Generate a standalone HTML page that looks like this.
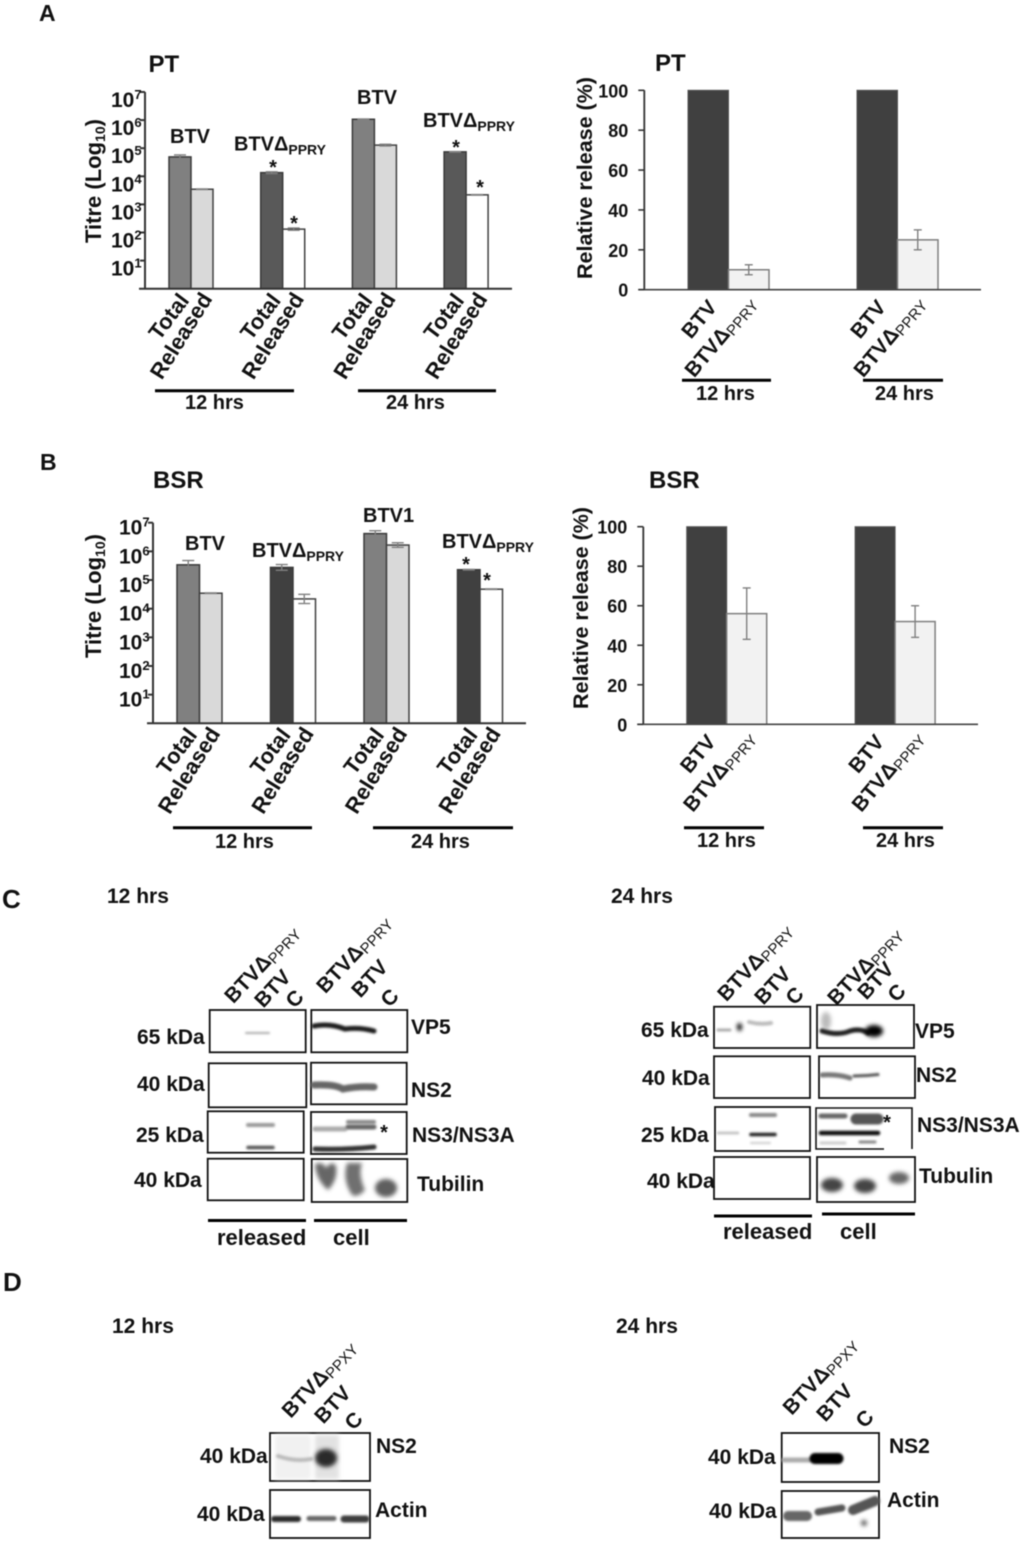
<!DOCTYPE html>
<html lang="en">
<head>
<meta charset="utf-8">
<title>BTV release figure</title>
<style>
html,body{margin:0;padding:0;background:#fff;}
svg{display:block;filter:blur(0.4px);}
text{font-family:"Liberation Sans",Arial,sans-serif;font-weight:bold;fill:#111;}
.sub{font-weight:bold;}
.box{fill:#fff;stroke:#111;stroke-width:1.8;}
.rule{stroke:#000;stroke-width:3;}
.kda{font-size:21px;}
.prot{font-size:21px;}
.lane{font-size:21px;}
.lane tspan{font-weight:normal;font-size:15px;}
.panel{font-size:23px;}
.bigpanel{font-size:26px;}
.hrs{font-size:21px;}
.band{fill:none;stroke-linecap:round;filter:url(#soft);}
.blob{filter:url(#soft2);}
</style>
</head>
<body>
<svg id="fig" xmlns="http://www.w3.org/2000/svg" width="1024" height="1542" viewBox="0 0 1024 1542">
<defs>
<filter id="soft" filterUnits="userSpaceOnUse" x="0" y="0" width="1024" height="1542"><feGaussianBlur stdDeviation="1"/></filter>
<filter id="soft2" filterUnits="userSpaceOnUse" x="0" y="0" width="1024" height="1542"><feGaussianBlur stdDeviation="2"/></filter>
</defs>
<text x="39" y="21" class="panel">A</text>
<text x="40" y="470" class="panel">B</text>
<text x="2" y="908" class="bigpanel">C</text>
<text x="3" y="1291" class="bigpanel">D</text>

<g id="charts"></g>

<g>
<text x="107" y="903" class="hrs">12 hrs</text>
<text class="lane" text-anchor="end" transform="translate(300 933) rotate(-47)">BTVΔ<tspan dy="3">PPRY</tspan></text>
<text class="lane" text-anchor="end" transform="translate(292 978) rotate(-47)">BTV</text>
<text class="lane" text-anchor="end" transform="translate(305 998) rotate(-47)">C</text>
<text class="lane" text-anchor="end" transform="translate(392 923) rotate(-47)">BTVΔ<tspan dy="3">PPRY</tspan></text>
<text class="lane" text-anchor="end" transform="translate(389 968) rotate(-47)">BTV</text>
<text class="lane" text-anchor="end" transform="translate(400 997) rotate(-47)">C</text>
<rect class="box" x="209.7" y="1010" width="96" height="42.3"/>
<rect class="box" x="311.3" y="1010" width="96" height="42.3"/>
<rect class="box" x="208.7" y="1063.3" width="97.6" height="44"/>
<rect class="box" x="311" y="1062.7" width="95.7" height="41.6"/>
<rect class="box" x="207.7" y="1111.3" width="96" height="41.4"/>
<rect class="box" x="311" y="1112" width="95.7" height="42"/>
<rect class="box" x="207.7" y="1158.7" width="96" height="41.6"/>
<rect class="box" x="311.7" y="1159" width="95.6" height="43"/>
<path class="band" d="M246 1033H269" stroke="#aaa" stroke-width="2"/>
<path class="band" d="M314 1026Q330 1023 345 1029Q360 1027 374 1031" stroke="#1c1c1c" stroke-width="5"/>
<path class="band" d="M314 1085Q335 1084 343 1089Q358 1086 374 1087" stroke="#666" stroke-width="7"/>
<path class="band" d="M248 1125H273" stroke="#999" stroke-width="4"/>
<path class="band" d="M248 1147.5H273" stroke="#555" stroke-width="3.5"/>
<path class="band" d="M315 1129H345" stroke="#aaa" stroke-width="5"/>
<path class="band" d="M348 1122H374" stroke="#888" stroke-width="4"/>
<path class="band" d="M348 1127H374" stroke="#666" stroke-width="5"/>
<path class="band" d="M315 1149Q345 1150 374 1147" stroke="#333" stroke-width="5"/>
<path class="blob" d="M315 1164Q323 1161 326 1168Q332 1160 336 1166Q338 1180 328 1190Q316 1180 315 1164Z" fill="#666"/>
<path class="blob" d="M347 1163H362Q358 1175 365 1190Q358 1198 352 1195Q342 1180 347 1163Z" fill="#707070"/>
<ellipse class="blob" cx="386" cy="1188" rx="11" ry="9" fill="#5f5f5f"/>
<text class="kda" x="137" y="1044">65 kDa</text>
<text class="kda" x="137" y="1091">40 kDa</text>
<text class="kda" x="136" y="1142">25 kDa</text>
<text class="kda" x="134" y="1187">40 kDa</text>
<text class="prot" x="411" y="1034">VP5</text>
<text class="prot" x="411" y="1097">NS2</text>
<text class="prot" x="412" y="1142">NS3/NS3A</text>
<text class="prot" x="417" y="1191">Tubilin</text>
<text x="384" y="1139" font-size="20" text-anchor="middle">*</text>
<line class="rule" x1="208" x2="306" y1="1220.5" y2="1220.5"/>
<line class="rule" x1="314" x2="407" y1="1220.5" y2="1220.5"/>
<text x="217" y="1245" font-size="22">released</text>
<text x="333" y="1245" font-size="22">cell</text>
</g>

<g>
<text x="611" y="903" class="hrs">24 hrs</text>
<text class="lane" text-anchor="end" transform="translate(793 931) rotate(-47)">BTVΔ<tspan dy="3">PPRY</tspan></text>
<text class="lane" text-anchor="end" transform="translate(792 975) rotate(-47)">BTV</text>
<text class="lane" text-anchor="end" transform="translate(805 995) rotate(-47)">C</text>
<text class="lane" text-anchor="end" transform="translate(903 935) rotate(-47)">BTVΔ<tspan dy="3">PPRY</tspan></text>
<text class="lane" text-anchor="end" transform="translate(895 970) rotate(-47)">BTV</text>
<text class="lane" text-anchor="end" transform="translate(907 992) rotate(-47)">C</text>
<rect class="box" x="714" y="1006.7" width="96.3" height="41.3"/>
<rect class="box" x="817" y="1005" width="97" height="43"/>
<rect class="box" x="714" y="1056.3" width="96" height="41.7"/>
<rect class="box" x="819" y="1056.3" width="96" height="41.7"/>
<rect class="box" x="715" y="1107" width="95" height="44"/>
<path d="M884 1149H816V1108H912V1149" fill="#fff" stroke="#111" stroke-width="1.6"/>
<rect class="box" x="714" y="1157" width="96" height="42"/>
<rect class="box" x="817" y="1157" width="98" height="45"/>
<path class="band" d="M718 1030H730" stroke="#aaa" stroke-width="3"/>
<ellipse class="blob" cx="739.5" cy="1027" rx="2.5" ry="4" fill="#000"/>
<path class="band" d="M749 1022Q760 1025 771 1023" stroke="#bbb" stroke-width="4"/>
<ellipse class="blob" cx="826" cy="1021" rx="5" ry="9" fill="#bbb"/>
<path class="band" d="M822 1031Q838 1036 850 1031Q860 1028 868 1033" stroke="#222" stroke-width="5"/>
<ellipse class="blob" cx="874" cy="1031" rx="9" ry="6" fill="#000"/>
<path class="band" d="M822 1075Q838 1074 850 1078" stroke="#777" stroke-width="5"/>
<path class="band" d="M854 1076Q866 1076 878 1074.5" stroke="#555" stroke-width="3"/>
<path class="band" d="M718 1133H738" stroke="#bbb" stroke-width="2.5"/>
<path class="band" d="M751 1115H775" stroke="#888" stroke-width="4"/>
<path class="band" d="M751 1134.5H775" stroke="#222" stroke-width="3.5"/>
<path class="band" d="M751 1143H770" stroke="#ccc" stroke-width="2"/>
<path class="band" d="M821 1116H845" stroke="#666" stroke-width="5"/>
<path class="band" d="M856 1119H878" stroke="#555" stroke-width="11"/>
<path class="band" d="M821 1133H878" stroke="#111" stroke-width="4.5"/>
<path class="band" d="M821 1143H845" stroke="#ccc" stroke-width="3"/>
<path class="band" d="M860 1142H875" stroke="#888" stroke-width="3"/>
<ellipse class="blob" cx="832" cy="1185" rx="11" ry="7" fill="#444"/>
<ellipse class="blob" cx="865" cy="1186" rx="11" ry="7" fill="#444"/>
<ellipse class="blob" cx="899" cy="1178" rx="10" ry="6" fill="#666"/>
<text class="kda" x="641" y="1037">65 kDa</text>
<text class="kda" x="642" y="1085">40 kDa</text>
<text class="kda" x="641" y="1142">25 kDa</text>
<text class="kda" x="647" y="1188">40 kDa</text>
<text class="prot" x="915" y="1038">VP5</text>
<text class="prot" x="916" y="1082">NS2</text>
<text class="prot" x="917" y="1132">NS3/NS3A</text>
<text class="prot" x="919" y="1183">Tubulin</text>
<text x="887" y="1129" font-size="20" text-anchor="middle">*</text>
<line class="rule" x1="714" x2="812" y1="1216" y2="1216"/>
<line class="rule" x1="822" x2="915" y1="1214" y2="1214"/>
<text x="723" y="1239" font-size="22">released</text>
<text x="840" y="1239" font-size="22">cell</text>
</g>

<g>
<text x="112" y="1333" class="hrs">12 hrs</text>
<text class="lane" text-anchor="end" transform="translate(357 1348) rotate(-47)">BTVΔ<tspan dy="3">PPXY</tspan></text>
<text class="lane" text-anchor="end" transform="translate(352 1394) rotate(-47)">BTV</text>
<text class="lane" text-anchor="end" transform="translate(364 1420) rotate(-47)">C</text>
<rect class="box" x="270" y="1433" width="100" height="48"/>
<rect class="box" x="270" y="1490" width="100" height="48"/>
<rect x="275" y="1435" width="36" height="44" fill="#f1f1f1" class="blob"/>
<rect x="315" y="1435" width="24" height="44" fill="#e2e2e2" class="blob"/>
<path class="band" d="M278 1456Q295 1462 311 1459" stroke="#bbb" stroke-width="4"/>
<ellipse class="blob" cx="326" cy="1458" rx="11" ry="9" fill="#2a2a2a"/>
<path class="band" d="M274 1519H298" stroke="#2c2c2c" stroke-width="6"/>
<path class="band" d="M309 1518.5H334" stroke="#666" stroke-width="5"/>
<path class="band" d="M344 1519H366" stroke="#3c3c3c" stroke-width="7"/>
<text class="kda" x="200" y="1463">40 kDa</text>
<text class="kda" x="197" y="1521">40 kDa</text>
<text class="prot" x="376" y="1453">NS2</text>
<text class="prot" x="375" y="1517">Actin</text>
</g>

<g>
<text x="616" y="1333" class="hrs">24 hrs</text>
<text class="lane" text-anchor="end" transform="translate(858 1345) rotate(-47)">BTVΔ<tspan dy="3">PPXY</tspan></text>
<text class="lane" text-anchor="end" transform="translate(854 1392) rotate(-47)">BTV</text>
<text class="lane" text-anchor="end" transform="translate(875 1418) rotate(-47)">C</text>
<rect class="box" x="781.7" y="1433" width="97.3" height="49"/>
<rect class="box" x="781.7" y="1491" width="97.3" height="47"/>
<path class="band" d="M784 1460H810" stroke="#aaa" stroke-width="5"/>
<path class="band" d="M815 1458.5H838" stroke="#000" stroke-width="11"/>
<path class="band" d="M788 1516H807" stroke="#666" stroke-width="10"/>
<path class="band" d="M818 1512L842 1508" stroke="#555" stroke-width="7"/>
<path class="band" d="M853 1510L875 1501" stroke="#555" stroke-width="10"/>
<circle class="blob" cx="864" cy="1523" r="3" fill="#555"/>
<text class="kda" x="708" y="1464">40 kDa</text>
<text class="kda" x="709" y="1518">40 kDa</text>
<text class="prot" x="889" y="1453">NS2</text>
<text class="prot" x="887" y="1507">Actin</text>
</g>
</svg>

<script>
// ---- data (titres as log10 values, release as percent) ----
const titreConditions = ['BTV 12 hrs', 'BTV-dPPRY 12 hrs', 'BTV 24 hrs', 'BTV-dPPRY 24 hrs'];
const titreTicks = [1, 2, 3, 4, 5, 6, 7];
const ptTotal = [4.69, 4.13, 6.03, 4.87];
const ptReleased = [3.54, 2.12, 5.11, 3.34];
const ptTotalErr = [0.07, 0.03, 0.01, 0.01];
const ptReleasedErr = [0.01, 0.04, 0.03, 0.01];
const bsrTotal = [5.53, 5.44, 6.62, 5.36];
const bsrReleased = [4.54, 4.34, 6.22, 4.68];
const bsrTotalErr = [0.15, 0.1, 0.1, 0.01];
const bsrReleasedErr = [0.01, 0.16, 0.08, 0.01];
const releaseTicks = [0, 20, 40, 60, 80, 100];
const releaseTimes = ['12 hrs', '24 hrs'];
const ptWildRelease = [100, 100];
const ptMutantRelease = [10, 25];
const ptMutantErr = [2.5, 5];
const bsrWildRelease = [100, 100];
const bsrMutantRelease = [56, 52];
const bsrMutantErr = [13, 8];

const NS = 'http://www.w3.org/2000/svg';
const root = document.getElementById('charts');

function node(tag, parent, attrs) {
  const el = document.createElementNS(NS, tag);
  for (const k in attrs) el.setAttribute(k, attrs[k]);
  parent.appendChild(el);
  return el;
}
function line(parent, name, x1, y1, x2, y2, color, w) {
  const el = node('line', parent, {x1: x1, y1: y1, x2: x2, y2: y2, stroke: color, 'stroke-width': w});
  
  
  return el;
}
function label(parent, name, str, x, y, size, extra) {
  const el = node('text', parent, Object.assign({x: x, y: y, 'font-size': size}, extra || {}));
  el.textContent = str;
  
  
  return el;
}
function rotated(parent, name, str, sub, x, y, size, subSize, angle, subWeight, color) {
  const el = node('text', parent, {'font-size': size, 'text-anchor': 'end', transform: 'translate(' + x + ' ' + y + ') rotate(' + angle + ')'});
  if (color) el.style.fill = color;
  el.appendChild(document.createTextNode(str));
  
  
  if (sub) {
    const t = node('tspan', el, {dy: 3, 'font-size': subSize, 'font-weight': subWeight});
    t.textContent = sub;
  }
  return el;
}
function bar(parent, name, x, w, yTop, yBase, fill, stroke, sw) {
  const el = node('rect', parent, {x: x, y: yTop, width: w, height: yBase - yTop, fill: fill, stroke: stroke, 'stroke-width': sw});
  
  
  return el;
}
function errorBar(parent, name, cx, yHi, yLo, cap) {
  const g = node('g', parent, {stroke: '#808080', 'stroke-width': 1.4});
  
  
  node('line', g, {x1: cx, x2: cx, y1: yHi, y2: yLo});
  node('line', g, {x1: cx - cap, x2: cx + cap, y1: yHi, y2: yHi});
  node('line', g, {x1: cx - cap, x2: cx + cap, y1: yLo, y2: yLo});
}

function titreChart(o) {
  const g = node('g', root, {});
  
  
  const y = function (v) { return o.bottom - v / 7 * (o.bottom - o.top); };
  const x = function (i) { return o.start + i * o.step; };
  const w = o.barWidth;
  o.total.forEach(function (v, i) {
    const isMutant = i % 2 === 1;
    bar(g, 'bar-total-' + i, x(i), w, y(v), o.bottom, isMutant ? o.mutantFill : '#808080', '#3a3a3a', 1.5);
    errorBar(g, 'error-total-' + i, x(i) + w / 2, y(v + o.totalErr[i]), y(v - o.totalErr[i]), 6);
    const r = o.released[i];
    bar(g, 'bar-released-' + i, x(i) + w, w, y(r), o.bottom, isMutant ? '#ffffff' : '#d9d9d9', '#404040', 1.5);
    errorBar(g, 'error-released-' + i, x(i) + w * 1.5, y(r + o.releasedErr[i]), y(r - o.releasedErr[i]), 6);
    rotated(g, 'tick-total', 'Total', '', x(i) + 21, o.bottom + 12, 22, 0, -53);
    rotated(g, 'tick-released', 'Released', '', x(i) + 44, o.bottom + 10, 22, 0, -58);
  });
  line(g, 'y-axis', o.axisX, o.top, o.axisX, o.bottom, '#333', 2);
  line(g, 'x-axis', o.axisX - 6, o.bottom, o.axisEnd, o.bottom, '#333', 2);
  titreTicks.forEach(function (t) {
    line(g, 'y-tick', o.axisX - 5, y(t), o.axisX, y(t), '#333', 2);
    const el = label(g, 'y-tick-label', '10', o.axisX - 34, y(t) + o.tickShift, 21);
    const s = node('tspan', el, {dy: -8, 'font-size': 13});
    s.textContent = t;
  });
  const title = node('text', g, {'font-size': 22, transform: 'translate(' + o.titleX + ' ' + o.titleY + ') rotate(-90)'});
  title.textContent = 'Titre (Log';
  
  
  const tsub = node('tspan', title, {dy: 4, 'font-size': 14});
  tsub.textContent = '10';
  const tend = node('tspan', title, {dy: -4});
  tend.textContent = ')';
  o.rules.forEach(function (r) {
    line(g, 'time-rule', r[0], r[1], r[2], r[1], '#000', 3);
    label(g, 'time-label', r[3], r[4], r[5], 20);
  });
}

function releaseChart(o) {
  const g = node('g', root, {});
  
  
  const y = function (v) { return o.bottom - v / 100 * (o.bottom - o.top); };
  const x = function (i) { return o.start + i * o.step; };
  const w = o.barWidth;
  releaseTimes.forEach(function (t, i) {
    bar(g, 'bar-btv-' + t.replace(' ', '-'), x(i), w, y(o.wild[i]), o.bottom, '#404040', '#555', 1);
    const m = o.mutant[i];
    bar(g, 'bar-mutant-' + t.replace(' ', '-'), x(i) + w, w, y(m), o.bottom, '#f2f2f2', '#7f7f7f', 1.5);
    errorBar(g, 'error-mutant-' + t.replace(' ', '-'), x(i) + w * 1.5, y(m + o.err[i]), y(m - o.err[i]), 4);
    rotated(g, 'tick-btv', 'BTV', '', x(i) + 30, o.bottom + 18, 21, 0, -50);
    rotated(g, 'tick-mutant', 'BTVΔ', 'PPRY', x(i) + 69, o.bottom + 14, 21, 15, -50, 'normal');
  });
  line(g, 'y-axis', o.axisX, o.top, o.axisX, o.bottom, '#333', 1.8);
  line(g, 'x-axis', o.axisX - 6, o.bottom, o.axisEnd, o.bottom, '#444', 1.6);
  releaseTicks.forEach(function (t) {
    line(g, 'y-tick', o.axisX - 6, y(t), o.axisX, y(t), '#333', 1.6);
    label(g, 'y-tick-label', String(t), o.axisX - 16, y(t) + 7, 18, {'text-anchor': 'end'});
  });
  const title = node('text', g, {'font-size': 21.5, transform: 'translate(' + o.titleX + ' ' + o.titleY + ') rotate(-90)'});
  title.textContent = 'Relative release (%)';
  
  
  o.rules.forEach(function (r) {
    line(g, 'time-rule', r[0], r[1], r[2], r[1], '#000', 3);
    label(g, 'time-label', r[3], r[4], r[5], 20);
  });
}

titreChart({name: 'pt-titre-chart', total: ptTotal, released: ptReleased, totalErr: ptTotalErr, releasedErr: ptReleasedErr,
  top: 92, bottom: 288.7, axisX: 145, axisEnd: 512, start: 169, step: 91.7, barWidth: 22, mutantFill: '#595959', tickShift: 15,
  titleX: 101, titleY: 243,
  rules: [[155, 390.7, 294, '12 hrs', 185, 409], [358, 390.7, 496, '24 hrs', 386, 409]]});
titreChart({name: 'bsr-titre-chart', total: bsrTotal, released: bsrReleased, totalErr: bsrTotalErr, releasedErr: bsrReleasedErr,
  top: 522.7, bottom: 723.3, axisX: 153, axisEnd: 526, start: 177, step: 93.5, barWidth: 22.5, mutantFill: '#404040', tickShift: 12,
  titleX: 101, titleY: 658,
  rules: [[173, 827.7, 312, '12 hrs', 215, 848], [373, 827.7, 513, '24 hrs', 411, 848]]});
releaseChart({name: 'pt-release-chart', wild: ptWildRelease, mutant: ptMutantRelease, err: ptMutantErr,
  top: 90.3, bottom: 289.7, axisX: 644.3, axisEnd: 981, start: 688, step: 169, barWidth: 40.5,
  titleX: 592, titleY: 279,
  rules: [[682, 380.3, 771, '12 hrs', 696, 400], [863, 380.3, 943, '24 hrs', 875, 400]]});
releaseChart({name: 'bsr-release-chart', wild: bsrWildRelease, mutant: bsrMutantRelease, err: bsrMutantErr,
  top: 526.7, bottom: 724.3, axisX: 643.3, axisEnd: 978, start: 686.7, step: 168.4, barWidth: 40,
  titleX: 588, titleY: 709,
  rules: [[684, 827.7, 764, '12 hrs', 697, 847], [863, 827.7, 943, '24 hrs', 876, 847]]});

// ---- chart annotations ----
const notes = node('g', root, {});


label(notes, 'chart-title', 'PT', 148.5, 72, 24);
label(notes, 'chart-title', 'PT', 655, 71, 24);
label(notes, 'chart-title', 'BSR', 153, 488, 24);
label(notes, 'chart-title', 'BSR', 649, 488, 24);
function strain(str, sub, x, y) {
  const el = label(notes, 'strain-label', str, x, y, 20);
  if (sub) {
    const s = node('tspan', el, {dy: 4, 'font-size': 14});
    s.textContent = sub;
  }
}
strain('BTV', '', 170, 143);
strain('BTVΔ', 'PPRY', 234, 150.5);
strain('BTV', '', 357, 104);
strain('BTVΔ', 'PPRY', 423, 127);
strain('BTV', '', 185, 550);
strain('BTVΔ', 'PPRY', 252, 557);
strain('BTV1', '', 363, 522);
strain('BTVΔ', 'PPRY', 442, 548);
function star(x, yc) {
  label(notes, 'significance-star', '*', x, yc + 11, 20, {'text-anchor': 'middle'});
}
star(273, 163);
star(294, 219);
star(456, 143);
star(480, 183);
star(466, 560);
star(487, 576);
</script>
</body>
</html>
